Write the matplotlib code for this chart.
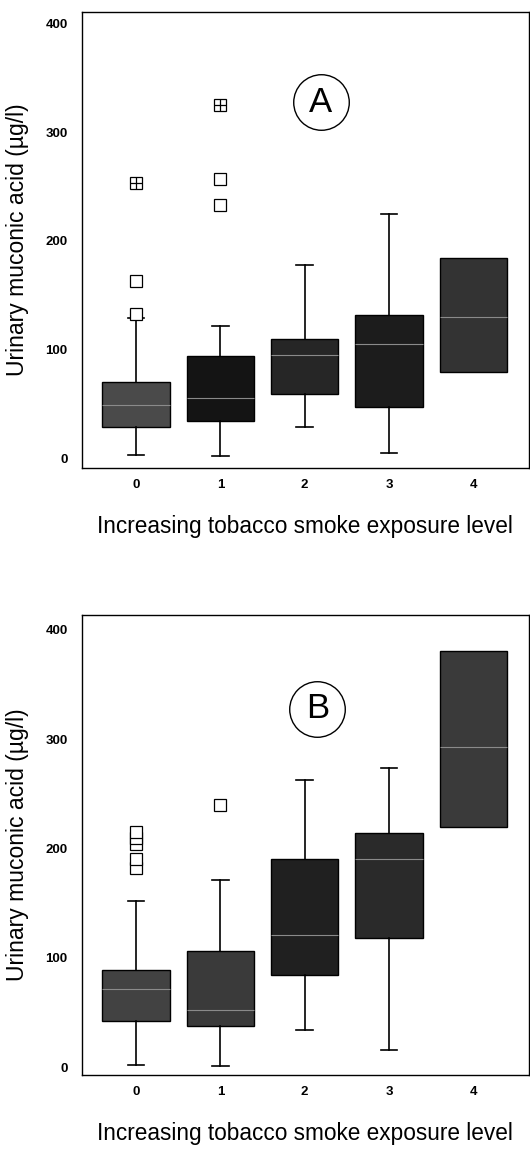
import numpy as np
import matplotlib.pyplot as plt

levels = [0, 1, 2, 3, 4]

# panel A (ug/l)
a_q1 = [29, 34, 59, 47, 79]
a_med = [49, 55, 95, 105, 130]
a_q3 = [70, 94, 110, 132, 184]
a_lo = [3, 2, 29, 5, None]
a_hi = [129, 122, 178, 225, None]
a_out = [[133, 163], [233, 257], [], [], []]
a_ext = [[253], [325], [], [], []]

# panel B (ug/l)
b_q1 = [42, 38, 84, 118, 220]
b_med = [71, 52, 121, 190, 293]
b_q3 = [89, 106, 190, 214, 381]
b_lo = [2, 1, 34, 16, None]
b_hi = [152, 171, 263, 274, None]
b_out = [[182, 190, 204, 210, 215], [240], [], [], []]
b_ext = [[], [], [], [], []]

a_colors = ['#4a4a4a', '#141414', '#262626', '#1c1c1c', '#333333']
b_colors = ['#424242', '#3a3a3a', '#202020', '#2a2a2a', '#3a3a3a']

plt.rcParams['font.family'] = ['Liberation Sans', 'DejaVu Sans']

fig = plt.figure(figsize=(5.3, 11.51), dpi=100)


def panel(rect, q1, med, q3, lo, hi, out, ext, colors, letter, ylim, lpos):
    ax = fig.add_axes(rect)
    stats = []
    for i in range(len(levels)):
        wl = lo[i] if lo[i] is not None else q1[i]
        wh = hi[i] if hi[i] is not None else q3[i]
        stats.append(dict(med=med[i], q1=q1[i], q3=q3[i], whislo=wl,
                          whishi=wh, fliers=[], label=str(levels[i])))
    bp = ax.bxp(stats, positions=levels, widths=0.8, patch_artist=True,
                showfliers=False,
                boxprops=dict(edgecolor='black', linewidth=1.0),
                medianprops=dict(color='#8a8a8a', linewidth=0.8),
                whiskerprops=dict(color='black', linewidth=1.2),
                capprops=dict(color='black', linewidth=1.2),
                capwidths=0.2)
    for p, c in zip(bp['boxes'], colors):
        p.set_facecolor(c)
    # no whiskers where none are drawn
    for i in range(len(levels)):
        if lo[i] is None:
            bp['whiskers'][2 * i].set_visible(False)
            bp['caps'][2 * i].set_visible(False)
        if hi[i] is None:
            bp['whiskers'][2 * i + 1].set_visible(False)
            bp['caps'][2 * i + 1].set_visible(False)
    for i, vals in enumerate(out):
        if vals:
            ax.plot([levels[i]] * len(vals), vals, 's', mfc='white', mec='black',
                    ms=8, mew=0.9, zorder=5)
    for i, vals in enumerate(ext):
        if vals:
            ax.plot([levels[i]] * len(vals), vals, 's', mfc='white', mec='black',
                    ms=8, mew=0.9, zorder=5)
            ax.plot([levels[i]] * len(vals), vals, '+', color='black',
                    ms=8, mew=0.9, zorder=6)
    ax.set_xlim(-0.645, 4.66)
    ax.set_ylim(*ylim)
    ax.set_yticks([0, 100, 200, 300, 400])
    ax.set_xticks(levels)
    ax.set_xticklabels([str(v) for v in levels])
    ax.tick_params(length=0, labelsize=9.5)
    ax.tick_params(axis='x', pad=8)
    ax.tick_params(axis='y', pad=10)
    for t in ax.get_xticklabels() + ax.get_yticklabels():
        t.set_fontweight('bold')
        t.set_family(['Liberation Sans Narrow', 'Liberation Sans'])
    for s in ax.spines.values():
        s.set_linewidth(1.0)
    ax.set_ylabel('Urinary muconic acid (µg/l)', fontsize=16.5, labelpad=12)
    ax.set_xlabel('Increasing tobacco smoke exposure level', fontsize=16.3,
                  labelpad=17)
    ax.plot([lpos[0]], [lpos[1]], 'o', ms=40, mfc='white', mec='black',
            mew=1.0, zorder=4)
    ax.text(lpos[0], lpos[1], letter, fontsize=25, ha='center', va='center',
            zorder=5)
    return ax


panel([0.154, 0.5934, 0.844, 0.3962], a_q1, a_med, a_q3, a_lo, a_hi, a_out,
      a_ext, a_colors, 'A', (-9.2, 411), (2.19, 328))
panel([0.154, 0.066, 0.844, 0.3997], b_q1, b_med, b_q3, b_lo, b_hi, b_out,
      b_ext, b_colors, 'B', (-7.3, 413.7), (2.15, 328))

fig.savefig('out.png', dpi=100)
